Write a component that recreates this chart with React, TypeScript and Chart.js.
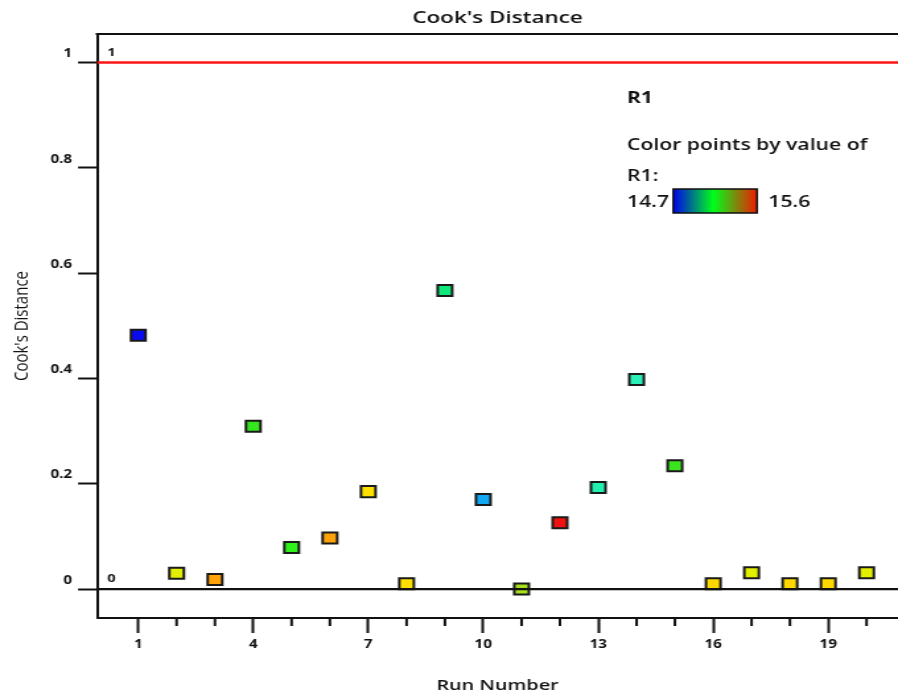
import { useEffect, useRef } from 'react';
import { Chart, registerables } from 'chart.js';

Chart.register(...registerables);

// Cook's distance per experimental run
const runNumbers = [1, 2, 3, 4, 5, 6, 7, 8, 9, 10, 11, 12, 13, 14, 15, 16, 17, 18, 19, 20];
const cooksDistance = [
  0.482, 0.03, 0.018, 0.309, 0.079, 0.097, 0.185, 0.01, 0.567, 0.17,
  0.0, 0.126, 0.193, 0.398, 0.234, 0.01, 0.031, 0.01, 0.01, 0.031,
];
// Marker fill, coloured by the run's R1 response
const pointColors = [
  '#0a0af2', '#e2f000', '#ffa20a', '#35e61c', '#2ef21a', '#ffa20a', '#ffe000', '#ffe000', '#0ee878', '#12a8f2',
  '#a6e01e', '#f21010', '#22f0b0', '#2af0b8', '#3ce420', '#ffd800', '#e2f000', '#ffd800', '#ffd800', '#e2f000',
];

const xMajorTicks = [1, 4, 7, 10, 13, 16, 19];
const yTickValues = [0, 0.2, 0.4, 0.6, 0.8, 1];
const yTickLabels = ['0', '0.2', '0.4', '0.6', '0.8', '1'];

const limitValue = 1;
const limitLabel = '1';
const baselineValue = 0;
const baselineLabel = '0';

const colorVariable = 'R1';
const colorCaption = 'Color points by value of';
const colorCaptionVariable = 'R1:';
const colorScaleMin = '14.7';
const colorScaleMax = '15.6';

const X_MIN = -0.075;
const X_MAX = 20.82;
const Y_MIN = -0.055;
const Y_MAX = 1.054;

// The drawing is laid out on a narrower canvas and stretched to the page width.
const CANVAS_W = 680;
const CANVAS_H = 697;
const DISPLAY_W = 898;

const FONT = '"Open Sans", "Noto Sans", sans-serif';
const INK = '#111111';

const frameAndDecor = {
  id: 'frameAndDecor',
  afterDraw(chart: any) {
    const { ctx, chartArea } = chart;
    const xs = chart.scales.x;
    const ys = chart.scales.y;
    ctx.save();

    // top edge of the plot frame
    ctx.strokeStyle = INK;
    ctx.lineWidth = 2;
    ctx.beginPath();
    ctx.moveTo(chartArea.left - 1, chartArea.top);
    ctx.lineTo(chartArea.right, chartArea.top);
    ctx.stroke();

    // minor ticks on the run axis
    ctx.lineWidth = 2;
    for (const r of runNumbers) {
      if (xMajorTicks.includes(r)) continue;
      const px = xs.getPixelForValue(r);
      ctx.beginPath();
      ctx.moveTo(px, chartArea.bottom);
      ctx.lineTo(px, chartArea.bottom + 8);
      ctx.stroke();
    }

    // labels on the reference lines
    ctx.fillStyle = INK;
    ctx.font = `bold 11px ${FONT}`;
    ctx.textAlign = 'center';
    ctx.textBaseline = 'middle';
    const lx = chartArea.left + 11;
    ctx.fillText(limitLabel, lx, ys.getPixelForValue(limitValue) - 9.5);
    ctx.fillText(baselineLabel, lx, ys.getPixelForValue(baselineValue) - 10);

    // colour key
    ctx.textAlign = 'left';
    ctx.textBaseline = 'alphabetic';
    const kx = 474.8;
    ctx.font = `bold 16px ${FONT}`;
    ctx.fillText(colorVariable, kx, 103);
    ctx.font = `600 16px ${FONT}`;
    ctx.fillText(colorCaption, kx, 150);
    ctx.fillText(colorCaptionVariable, kx, 181);
    ctx.fillText(colorScaleMin, kx, 206.5);
    ctx.fillText(colorScaleMax, 581.8, 206.5);

    const bx = 509.8;
    const bw = 63.4;
    const by = 189;
    const bh = 24;
    const grad = ctx.createLinearGradient(bx, 0, bx + bw, 0);
    grad.addColorStop(0, '#0000ee');
    grad.addColorStop(0.48, '#00ff1a');
    grad.addColorStop(1, '#f21a00');
    ctx.fillStyle = grad;
    ctx.fillRect(bx, by, bw, bh);
    ctx.strokeStyle = INK;
    ctx.lineWidth = 1.5;
    ctx.strokeRect(bx, by, bw, bh);

    ctx.restore();
  },
};

export default function App() {
  const canvasRef = useRef<HTMLCanvasElement | null>(null);

  useEffect(() => {
    const canvas = canvasRef.current;
    if (!canvas) return;

    const points = runNumbers.map((r, i) => ({ x: r, y: cooksDistance[i] }));

    const chart = new Chart(canvas, {
      type: 'scatter',
      data: {
        datasets: [
          {
            type: 'line',
            label: 'limit',
            data: [
              { x: X_MIN, y: limitValue },
              { x: X_MAX, y: limitValue },
            ],
            borderColor: '#ff1414',
            borderWidth: 2.5,
            pointRadius: 0,
            order: 0,
          },
          {
            type: 'line',
            label: 'baseline',
            data: [
              { x: X_MIN, y: baselineValue },
              { x: X_MAX, y: baselineValue },
            ],
            borderColor: INK,
            borderWidth: 2.2,
            pointRadius: 0,
            order: 0,
          },
          {
            label: "Cook's Distance",
            data: points,
            pointStyle: 'rect',
            pointRadius: 7.8,
            pointBackgroundColor: pointColors,
            pointBorderColor: '#1a1a1a',
            pointBorderWidth: 2,
            order: 1,
          } as any,
        ],
      },
      options: {
        responsive: false,
        animation: false,
        events: [],
        layout: { padding: 0, autoPadding: false },
        plugins: {
          legend: { display: false },
          tooltip: { enabled: false },
          title: {
            display: true,
            text: "Cook's Distance",
            fullSize: false,
            color: INK,
            font: { family: FONT, size: 17, weight: 600 as any },
            padding: { top: 7.8, bottom: 5.8 },
          },
        },
        scales: {
          x: {
            type: 'linear',
            position: 'bottom',
            min: X_MIN,
            max: X_MAX,
            afterBuildTicks: (s: any) => {
              s.ticks = xMajorTicks.map((v) => ({ value: v }));
            },
            afterFit: (s: any) => {
              s.height = CANVAS_H - 618;
              s.paddingLeft = 0;
              s.paddingRight = 0;
            },
            ticks: {
              color: INK,
              font: { family: FONT, size: 11.5, weight: 'bold' },
              padding: 5.2,
              maxRotation: 0,
              autoSkip: false,
              callback: (v: any) => String(v),
            },
            grid: {
              drawOnChartArea: false,
              drawTicks: true,
              tickLength: 15,
              tickWidth: 2,
              tickColor: INK,
            },
            border: { display: true, color: INK, width: 2 },
            title: {
              display: true,
              text: 'Run Number',
              color: INK,
              font: { family: FONT, size: 15, weight: 600 as any },
              padding: { top: 0, bottom: 2.6 },
            },
          },
          y: {
            type: 'linear',
            min: Y_MIN,
            max: Y_MAX,
            afterBuildTicks: (s: any) => {
              s.ticks = yTickValues.map((v) => ({ value: v }));
            },
            afterFit: (s: any) => {
              s.width = 73.5;
              s.paddingTop = 0;
              s.paddingBottom = 0;
            },
            ticks: {
              color: INK,
              font: { family: FONT, size: 11.5, weight: 'bold' },
              padding: 4.5,
              labelOffset: -8.5,
              autoSkip: false,
              callback: (_v: any, i: number) => yTickLabels[i],
            },
            grid: {
              drawOnChartArea: false,
              drawTicks: true,
              tickLength: 14.4,
              tickWidth: 2,
              tickColor: INK,
            },
            border: { display: true, color: INK, width: 2 },
            title: {
              display: true,
              text: "Cook's Distance",
              color: INK,
              font: { family: FONT, size: 15, weight: 'normal' },
              padding: { top: 7.7, bottom: 0 },
            },
          },
        },
      },
      plugins: [frameAndDecor],
    });

    return () => chart.destroy();
  }, []);

  return (
    <div style={{ position: 'fixed', left: 0, top: 0, width: DISPLAY_W, height: CANVAS_H, background: '#fff' }}>
      <canvas
        ref={canvasRef}
        width={CANVAS_W}
        height={CANVAS_H}
        style={{ display: 'block', width: `${DISPLAY_W}px`, height: `${CANVAS_H}px` }}
      />
    </div>
  );
}
